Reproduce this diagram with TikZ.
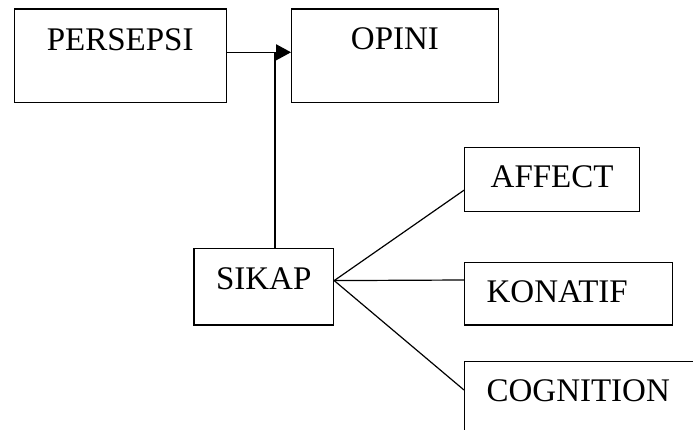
\documentclass[tikz,border=0pt]{standalone}
\usepackage{fontspec}
\setmainfont{Liberation Serif}
\usepackage{tikz}
\usetikzlibrary{arrows.meta}

\tikzset{
	kotak/.style={draw,line width=1.2pt,inner sep=0pt,anchor=north west,font=\fontsize{33}{40}\selectfont},
	garis/.style={line width=1.2pt}
}

\begin{document}
\begin{tikzpicture}[x=1pt,y=1pt]
		\useasboundingbox (0,0) rectangle (693,-430);
		\node[kotak,minimum width=212.2pt,text height=41.5pt,text depth=51.7pt] (persepsi) at (13.5,-8.5) {PERSEPSI};
		\node[kotak,minimum width=206.7pt,text height=40.5pt,text depth=53pt] (opini) at (291,-8.5) {OPINI};
		\node[kotak,minimum width=139.7pt,text height=41.3pt,text depth=35.3pt] (sikap) at (193.3,-247.7) {SIKAP};
		\node[kotak,minimum width=175pt,text height=40pt,text depth=24pt] (affect) at (464,-147) {AFFECT};
		\node[kotak,inner xsep=22pt,text width=163.7pt,align=left,text height=40pt,text depth=22.6pt] (konatif) at (464,-261.7) {KONATIF};
		\node[kotak,inner xsep=22pt,text width=200pt,align=left,text height=39.7pt,text depth=60pt] (cognition) at (464,-361) {COGNITION};
		\coordinate (temu) at (275,-52.3);
		\coordinate (cabang) at ([yshift=6pt]sikap.east);
		\draw[garis,-{Triangle[length=15pt,width=16pt]}] (persepsi.east |- temu) -- (opini.west |- temu);
		\draw[garis] (sikap.north -| temu) -- (temu);
		\draw[garis] (cabang) -- ([yshift=22pt]affect.south west);
		\draw[garis] (cabang) -- ([yshift=-18.3pt]konatif.north west);
		\draw[garis] (cabang) -- ([yshift=-29pt]cognition.north west);
	\end{tikzpicture}
\end{document}
